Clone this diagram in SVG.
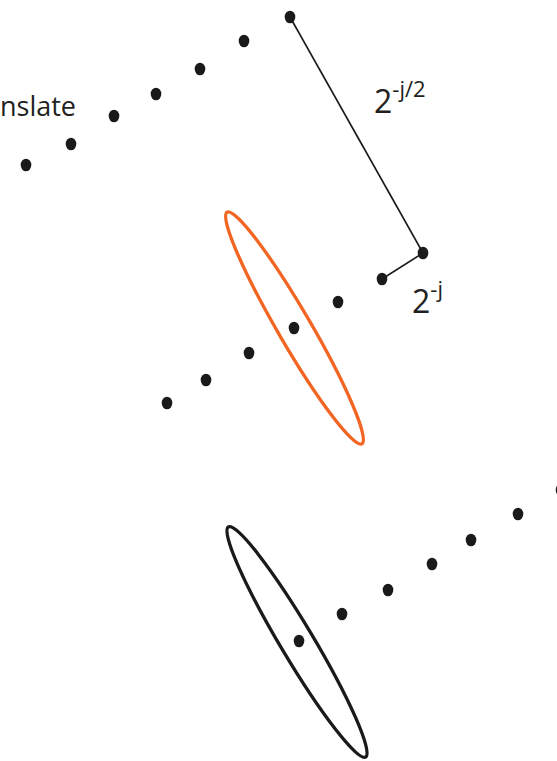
<svg xmlns="http://www.w3.org/2000/svg" width="557" height="761" viewBox="0 0 557 761">
<style>
.d{fill:#1a1a1a}
.t{font-family:"Open Sans","Liberation Sans",sans-serif;fill:#231f20}
.ln{stroke:#1a1a1a;stroke-width:1.6;fill:none}
</style>
<rect width="557" height="761" fill="#fff"/>
<g id="connectors">
<line class="ln" x1="290" y1="17" x2="423" y2="253"/>
<line class="ln" x1="382" y1="279" x2="423" y2="253"/>
</g>
<g id="row1">
<ellipse class="d" cx="26" cy="165" rx="5.3" ry="6.3"/>
<ellipse class="d" cx="71" cy="144" rx="5.3" ry="6.3"/>
<ellipse class="d" cx="114" cy="116" rx="5.3" ry="6.3"/>
<ellipse class="d" cx="156" cy="94" rx="5.3" ry="6.3"/>
<ellipse class="d" cx="200" cy="69" rx="5.3" ry="6.3"/>
<ellipse class="d" cx="244" cy="41" rx="5.3" ry="6.3"/>
<ellipse class="d" cx="290" cy="17" rx="5.3" ry="6.3"/>
</g>
<g id="row2">
<ellipse class="d" cx="167" cy="403" rx="5.3" ry="6.3"/>
<ellipse class="d" cx="206" cy="380" rx="5.3" ry="6.3"/>
<ellipse class="d" cx="249" cy="353" rx="5.3" ry="6.3"/>
<ellipse class="d" cx="294" cy="328" rx="5.3" ry="6.3"/>
<ellipse class="d" cx="338" cy="302" rx="5.3" ry="6.3"/>
<ellipse class="d" cx="382" cy="279" rx="5.3" ry="6.3"/>
<ellipse class="d" cx="423" cy="253" rx="5.3" ry="6.3"/>
</g>
<g id="row3">
<ellipse class="d" cx="299" cy="641" rx="5.3" ry="6.3"/>
<ellipse class="d" cx="342" cy="614" rx="5.3" ry="6.3"/>
<ellipse class="d" cx="388" cy="590" rx="5.3" ry="6.3"/>
<ellipse class="d" cx="432" cy="564" rx="5.3" ry="6.3"/>
<ellipse class="d" cx="471" cy="540" rx="5.3" ry="6.3"/>
<ellipse class="d" cx="518" cy="514" rx="5.3" ry="6.3"/>
<ellipse class="d" cx="561" cy="490" rx="5.3" ry="6.3"/>
</g>
<g id="orange-ellipse">
<ellipse cx="294.5" cy="328" rx="134" ry="16.5" transform="rotate(59.8 294.5 328)" fill="none" stroke="#f26522" stroke-width="3.3"/>
</g>
<g id="black-ellipse">
<ellipse cx="297" cy="642" rx="134" ry="16.5" transform="rotate(59.2 297 642)" fill="none" stroke="#1a1a1a" stroke-width="3.3"/>
</g>
<g id="labels">
<text class="t" x="0" y="116" font-size="27">nslate</text>
<text class="t" x="374" y="113" font-size="32">2<tspan font-size="22" dy="-16">-j/2</tspan></text>
<text class="t" x="412" y="313" font-size="32">2<tspan font-size="22" dy="-16">-j</tspan></text>
</g>
</svg>
